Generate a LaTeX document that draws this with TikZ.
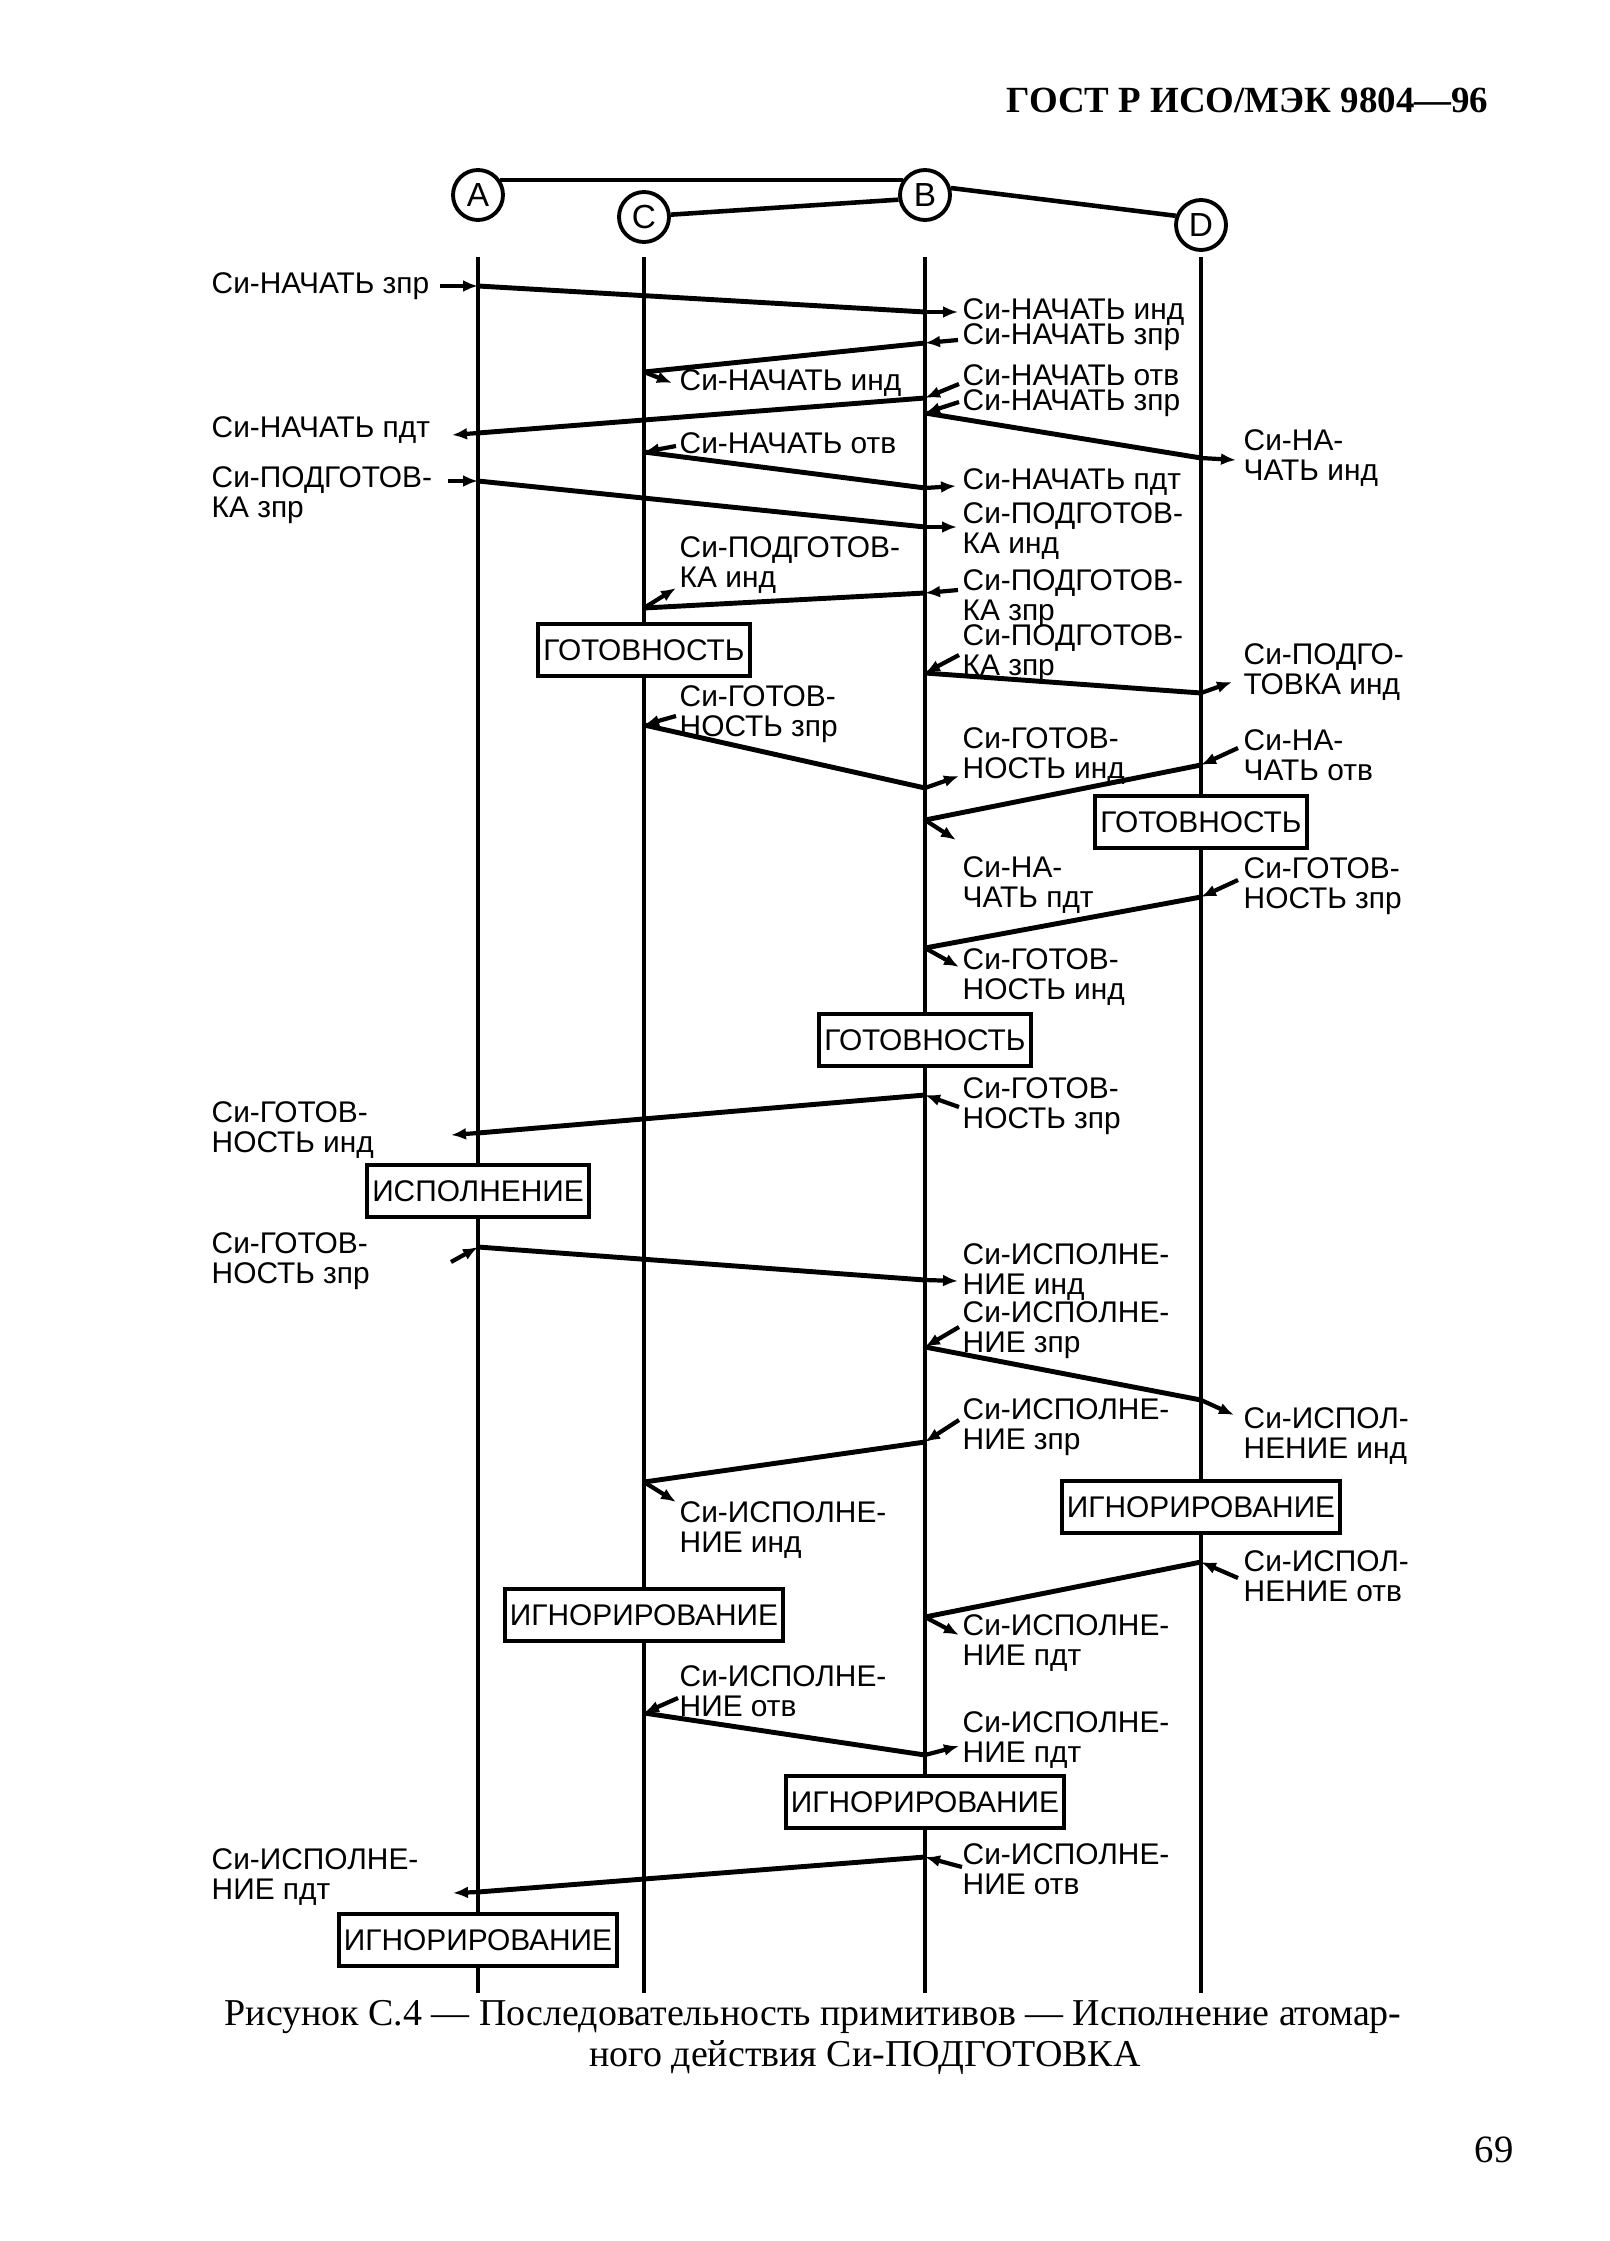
\documentclass[tikz,border=0pt]{standalone}
\usepackage{fontspec}
\setmainfont{Liberation Serif}
\setsansfont{Liberation Sans}
\usetikzlibrary{arrows.meta}
\newcommand{\xA}{478}
\newcommand{\xC}{644}
\newcommand{\xB}{925}
\newcommand{\xD}{1201}
% one exchange: stub into the sender, signal line, stub out of the receiver
\newcommand{\SigMsg}[7]{%
  \coordinate (#1s) at (#2,#3);
  \coordinate (#1d) at (#4,#5);
  \coordinate (#1i) at (#6);
  \coordinate (#1o) at (#7);
  \draw[stub] (#1i) -- (#1s);
  \draw[signal] (#1s) -- (#1d);
  \draw[stub] (#1d) -- (#1o);
}

\begin{document}
\begin{tikzpicture}[x=0.1mm,y=-0.1mm,
 >={Latex[length=1.5mm,width=1.2mm]},
 signal/.style={line width=1.4pt},
 stub/.style={->,line width=1.2pt},
 life/.style={line width=0.9pt},
 link/.style={line width=1.3pt},
 party/.style={circle,draw,line width=1.1pt,minimum size=5mm,inner sep=0pt,
   font=\sffamily\fontsize{9.5}{10}\selectfont},
 state/.style={draw,fill=white,line width=1.2pt,minimum height=5.2mm,
   inner xsep=1.5pt,font=\sffamily\fontsize{8.5}{9}\selectfont},
 prim/.style={anchor=west,align=left,inner sep=0pt,
   font=\sffamily\fontsize{8.5}{8.7}\selectfont}]
\path[use as bounding box] (0,0) rectangle (1609,2241);

\node[anchor=east,inner sep=0pt,font=\bfseries\fontsize{10.5}{12}\selectfont] (head)
 at (1489,100) {ГОСТ Р ИСО/МЭК 9804—96};

% parties and their links
\node[party] (A) at (\xA,195) {A};
\node[party] (C) at (\xC,217) {C};
\node[party] (B) at (\xB,195) {B};
\node[party] (D) at (\xD,225) {D};
\draw[link] (A.34) -- (B.146);
\draw[link] (C.5) -- (B.190);
\draw[link] (B.15) -- (D.160);

% lifelines
\foreach \n/\x in {A/\xA,C/\xC,B/\xB,D/\xD} {
  \coordinate (\n top) at (\x,257);
  \coordinate (\n bot) at (\x,1993);
  \draw[life] (\n top) -- (\n bot);
}

% states
\node[state] (ready1) at (\xC,650) {ГОТОВНОСТЬ};
\node[state] (ready2) at (\xD,822) {ГОТОВНОСТЬ};
\node[state] (ready3) at (\xB,1040) {ГОТОВНОСТЬ};
\node[state] (exec1) at (\xA,1191) {ИСПОЛНЕНИЕ};
\node[state] (ign1) at (\xD,1507) {ИГНОРИРОВАНИЕ};
\node[state] (ign2) at (\xC,1615) {ИГНОРИРОВАНИЕ};
\node[state] (ign3) at (\xB,1802) {ИГНОРИРОВАНИЕ};
\node[state] (ign4) at (\xA,1940) {ИГНОРИРОВАНИЕ};

% primitives
\SigMsg{m1}{\xA}{286}{\xB}{312}{440,286}{958,312}
\node[prim] (m1from) at (211,286) {Си-НАЧАТЬ зпр};
\node[prim] (m1to) at (962,312) {Си-НАЧАТЬ инд};

\SigMsg{m2}{\xB}{343}{\xC}{372}{958,340}{672,383}
\node[prim] (m2from) at (962,337) {Си-НАЧАТЬ зпр};
\node[prim] (m2to) at (679,383) {Си-НАЧАТЬ инд};

\SigMsg{m3}{\xB}{398}{\xA}{433}{959,384}{452,435}
\node[prim] (m3from) at (962,375) {Си-НАЧАТЬ отв};
\node[prim] (m3to) at (211,430) {Си-НАЧАТЬ пдт};

\SigMsg{m4}{\xB}{413}{\xD}{458}{959,402}{1236,460}
\node[prim] (m4from) at (962,403) {Си-НАЧАТЬ зпр};
\node[prim] (m4to) at (1243,458) {Си-НА-\\ЧАТЬ инд};

\SigMsg{m5}{\xC}{452}{\xB}{488}{676,446}{956,486}
\node[prim] (m5from) at (679,443) {Си-НАЧАТЬ отв};
\node[prim] (m5to) at (962,482) {Си-НАЧАТЬ пдт};

\SigMsg{m6}{\xA}{481}{\xB}{527}{448,481}{957,527}
\node[prim] (m6from) at (211,495) {Си-ПОДГОТОВ-\\КА зпр};
\node[prim] (m6to) at (962,531) {Си-ПОДГОТОВ-\\КА инд};

\SigMsg{m7}{\xB}{593}{\xC}{608}{958,590}{676,588}
\node[prim] (m7from) at (962,598) {Си-ПОДГОТОВ-\\КА зпр};
\node[prim] (m7to) at (679,565) {Си-ПОДГОТОВ-\\КА инд};

\SigMsg{m8}{\xB}{673}{\xD}{693}{959,655}{1232,682}
\node[prim] (m8from) at (962,653) {Си-ПОДГОТОВ-\\КА зпр};
\node[prim] (m8to) at (1243,672) {Си-ПОДГО-\\ТОВКА инд};

\SigMsg{m9}{\xC}{725}{\xB}{788}{676,716}{959,776}
\node[prim] (m9from) at (679,714) {Си-ГОТОВ-\\НОСТЬ зпр};
\node[prim] (m9to) at (962,756) {Си-ГОТОВ-\\НОСТЬ инд};

\SigMsg{m10}{\xD}{765}{\xB}{820}{1238,748}{956,840}
\node[prim] (m10from) at (1243,755) {Си-НА-\\ЧАТЬ отв};
\node[prim] (m10to) at (962,885) {Си-НА-\\ЧАТЬ пдт};

\SigMsg{m11}{\xD}{897}{\xB}{948}{1238,880}{959,967}
\node[prim] (m11from) at (1243,886) {Си-ГОТОВ-\\НОСТЬ зпр};
\node[prim] (m11to) at (962,977) {Си-ГОТОВ-\\НОСТЬ инд};

\SigMsg{m12}{\xB}{1095}{\xA}{1133}{959,1107}{451,1135}
\node[prim] (m12from) at (962,1106) {Си-ГОТОВ-\\НОСТЬ зпр};
\node[prim] (m12to) at (211,1130) {Си-ГОТОВ-\\НОСТЬ инд};

\SigMsg{m13}{\xA}{1247}{\xB}{1280}{451,1262}{958,1281}
\node[prim] (m13from) at (211,1261) {Си-ГОТОВ-\\НОСТЬ зпр};
\node[prim] (m13to) at (962,1272) {Си-ИСПОЛНЕ-\\НИЕ инд};

\SigMsg{m14}{\xB}{1347}{\xD}{1400}{959,1327}{1234,1415}
\node[prim] (m14from) at (962,1330) {Си-ИСПОЛНЕ-\\НИЕ зпр};
\node[prim] (m14to) at (1243,1436) {Си-ИСПОЛ-\\НЕНИЕ инд};

\SigMsg{m15}{\xB}{1442}{\xC}{1482}{959,1420}{676,1502}
\node[prim] (m15from) at (962,1427) {Си-ИСПОЛНЕ-\\НИЕ зпр};
\node[prim] (m15to) at (679,1530) {Си-ИСПОЛНЕ-\\НИЕ инд};

\SigMsg{m16}{\xD}{1562}{\xB}{1617}{1238,1578}{959,1635}
\node[prim] (m16from) at (1243,1576) {Си-ИСПОЛ-\\НЕНИЕ отв};
\node[prim] (m16to) at (962,1643) {Си-ИСПОЛНЕ-\\НИЕ пдт};

\SigMsg{m17}{\xC}{1713}{\xB}{1755}{678,1698}{959,1746}
\node[prim] (m17from) at (679,1691) {Си-ИСПОЛНЕ-\\НИЕ отв};
\node[prim] (m17to) at (962,1740) {Си-ИСПОЛНЕ-\\НИЕ пдт};

\SigMsg{m18}{\xB}{1857}{\xA}{1892}{962,1867}{453,1893}
\node[prim] (m18from) at (962,1869) {Си-ИСПОЛНЕ-\\НИЕ отв};
\node[prim] (m18to) at (211,1877) {Си-ИСПОЛНЕ-\\НИЕ пдт};

% caption and page number
\node[anchor=west,inner sep=0pt,font=\fontsize{10.8}{13}\selectfont] (cap1) at (224,2017)
 {Рисунок С.4 — Последовательность примитивов — Исполнение атомар-};
\node[font=\fontsize{10.8}{13}\selectfont] (cap2) at (865,2058)
 {ного действия Си-ПОДГОТОВКА};
\node[font=\fontsize{11}{13}\selectfont] (page) at (1494,2150) {69};
\end{tikzpicture}
\end{document}
